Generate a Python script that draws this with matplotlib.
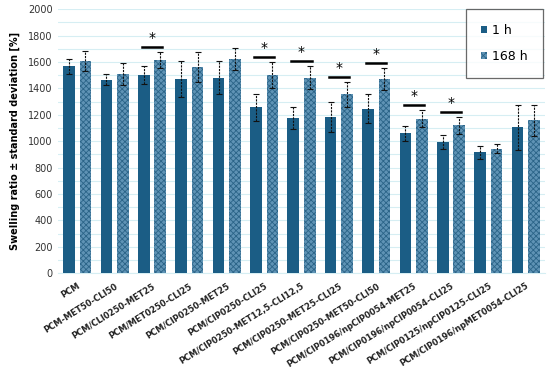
import matplotlib.pyplot as plt
import numpy as np

labels = ['PCM', 'PCM-MET50-CLI50', 'PCM/CLI0250-MET25', 'PCM/MET0250-CLI25',
          'PCM/CIP0250-MET25', 'PCM/CIP0250-CLI25', 'PCM/CIP0250-MET12,5-CLI12,5',
          'PCM/CIP0250-MET25-CLI25', 'PCM/CIP0250-MET50-CLI50',
          'PCM/CIP0196/npCIP0054-MET25', 'PCM/CIP0196/npCIP0054-CLI25',
          'PCM/CIP0125/npCIP0125-CLI25', 'PCM/CIP0196/npMET0054-CLI25']
h1 = [1568, 1467, 1502, 1474, 1482, 1255, 1172, 1184, 1247, 1058, 995, 914, 1104]
h1_err = [56, 38, 71, 137, 128, 99, 83, 114, 110, 58, 55, 53, 168]
h168 = [1610, 1510, 1614, 1561, 1620, 1500, 1482, 1354, 1470, 1170, 1120, 942, 1157]
h168_err = [75, 84, 60, 111, 83, 96, 86, 95, 83, 65, 65, 35, 116]
significant = [2, 5, 6, 7, 8, 9, 10]

dark = '#1b5d85'
light = '#5f93b5'

plt.rcParams['hatch.linewidth'] = 0.6
fig = plt.figure(figsize=(5.5, 3.82), dpi=100)
ax = fig.add_axes([0.105, 0.285, 0.885, 0.691])

x = np.arange(len(labels))
w = 0.31
off = 0.22
ekw = dict(ecolor='#111111', elinewidth=0.8, capsize=2, capthick=0.8)

b1 = ax.bar(x - off, h1, w, color=dark, label='1 h', zorder=3)
b2 = ax.bar(x + off, h168, w, color=light, edgecolor='#2b6488', hatch='xxxxxx',
            linewidth=0, label='168 h', zorder=3)
e1 = ax.errorbar(x - off, h1, yerr=h1_err, fmt='none', zorder=4, **ekw)
e2 = ax.errorbar(x + off, h168, yerr=h168_err, fmt='none', zorder=4, **ekw)
for e in (e1, e2):
    e[2][0].set_linestyle((0, (2, 1)))

# significance marks
for i in significant:
    top = max(h1[i] + h1_err[i], h168[i] + h168_err[i]) + 38
    ax.plot([i - off - 0.05, i + off + 0.05], [top, top], color='black', lw=1.8, zorder=5)
    ax.text(i, top + 15, '*', ha='center', va='bottom', fontsize=10, zorder=5)

ax.set_xlim(-0.52, 12.5)
ax.set_ylim(0, 2000)
ax.set_yticks(np.arange(0, 2001, 200))
ax.set_yticks(np.arange(0, 2001, 100), minor=True)
ax.tick_params(axis='y', which='both', length=0, labelsize=7, colors='#333333')
ax.tick_params(axis='x', length=0, pad=6)
ax.set_xticks(x)
ax.set_xticklabels(labels, rotation=32, ha='right', rotation_mode='anchor',
                   fontsize=6, fontweight='bold', color='#222222')
ax.yaxis.grid(True, which='both', color='#d6eef3', lw=0.8, zorder=0)
ax.set_axisbelow(True)
for s in ['top', 'right', 'left']:
    ax.spines[s].set_visible(False)
ax.spines['bottom'].set_color('#d6eef3')

ax.set_ylabel('Swelling ratio ± standard deviation [%]', fontsize=7, fontweight='bold', labelpad=6)

leg = ax.legend(loc='upper right', bbox_to_anchor=(0.997, 1.0), fontsize=9, frameon=True,
                fancybox=False, edgecolor='#444444', handlelength=0.5, handleheight=0.5,
                labelspacing=1.0, borderpad=1.2, handletextpad=0.4, borderaxespad=0)
leg.get_frame().set_linewidth(0.9)

fig.savefig('out.png', dpi=100)
